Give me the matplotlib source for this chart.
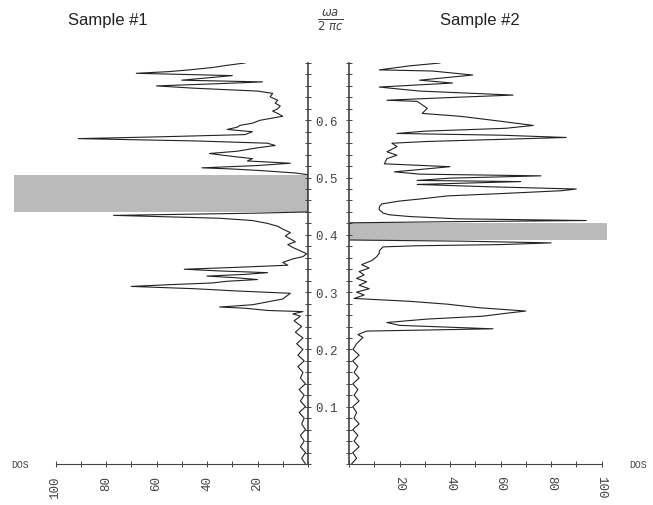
import matplotlib.pyplot as plt
from matplotlib.ticker import MultipleLocator, FixedLocator

# density of states vs reduced frequency
freq1 = [0.0, 0.01, 0.02, 0.03, 0.04, 0.05, 0.06, 0.07, 0.08, 0.09, 0.10, 0.11, 0.12,
         0.13, 0.14, 0.15, 0.16, 0.17, 0.18, 0.19, 0.20, 0.21, 0.22, 0.23, 0.24, 0.25,
         0.258, 0.262, 0.266, 0.268, 0.272, 0.274, 0.278, 0.288, 0.298, 0.302, 0.306,
         0.310, 0.313, 0.316, 0.319, 0.322, 0.325, 0.328, 0.331, 0.334, 0.337, 0.340,
         0.343, 0.347, 0.352, 0.358, 0.362, 0.367, 0.372, 0.378, 0.383, 0.388, 0.393,
         0.398, 0.404, 0.410, 0.415, 0.420, 0.425, 0.429, 0.432, 0.434, 0.436, 0.438,
         0.440, 0.505, 0.508, 0.512, 0.515, 0.517, 0.521, 0.525, 0.529, 0.533, 0.537,
         0.542, 0.546, 0.552, 0.556, 0.560, 0.564, 0.568, 0.571, 0.575, 0.580, 0.584,
         0.588, 0.591, 0.595, 0.600, 0.607, 0.612, 0.616, 0.620, 0.625, 0.630, 0.635,
         0.641, 0.647, 0.651, 0.656, 0.660, 0.664, 0.667, 0.670, 0.674, 0.678, 0.682,
         0.685, 0.688, 0.692, 0.696, 0.700]
dos1 = [1, 2.5, 1, 3, 1.5, 3, 1, 2.5, 1.5, 3.5, 1, 3, 1.5,
        3.5, 1, 3, 2, 4, 1.5, 4, 2, 4.5, 2, 5, 2.5, 5.5,
        3, 6, 2, 16, 25, 35, 22, 10, 7, 28, 45,
        70, 55, 38, 32, 20, 28, 40, 25, 16, 35, 49,
        30, 8, 10, 6, 2, 0.5, 3, 6, 8, 5, 7,
        9, 7, 10, 12, 16, 22, 35, 60, 77, 48, 19,
        0, 0, 5, 18, 30, 42, 20, 7, 24, 22, 30,
        39, 28, 20, 13, 16, 45, 91, 60, 25, 22, 32,
        28, 27, 22, 19, 10, 12, 14, 12, 11, 13, 12,
        15, 14, 20, 45, 60, 35, 18, 50, 40, 30, 68,
        55, 47, 38, 32, 25]

freq2 = [0.0, 0.01, 0.02, 0.03, 0.04, 0.05, 0.06, 0.07, 0.08, 0.09, 0.10, 0.11, 0.12,
         0.13, 0.14, 0.15, 0.16, 0.17, 0.18, 0.19, 0.20, 0.21, 0.221, 0.226, 0.232,
         0.236, 0.242, 0.247, 0.253, 0.258, 0.263, 0.267, 0.273, 0.279, 0.284, 0.289,
         0.295, 0.300, 0.306, 0.312, 0.318, 0.324, 0.330, 0.336, 0.342, 0.348, 0.355,
         0.362, 0.368, 0.372, 0.379, 0.381, 0.383, 0.386, 0.389, 0.391, 0.421, 0.423,
         0.425, 0.428, 0.432, 0.435, 0.438, 0.444, 0.449, 0.454, 0.459, 0.463, 0.468,
         0.472, 0.477, 0.480, 0.484, 0.488, 0.493, 0.495, 0.499, 0.503, 0.506, 0.510,
         0.519, 0.524, 0.533, 0.539, 0.545, 0.554, 0.560, 0.563, 0.570, 0.574, 0.577,
         0.581, 0.586, 0.591, 0.600, 0.607, 0.612, 0.621, 0.633, 0.635, 0.639, 0.644,
         0.651, 0.658, 0.665, 0.670, 0.679, 0.686, 0.688, 0.695, 0.700]
dos2 = [1, 3, 1.5, 4, 2, 3.5, 1.5, 4, 2, 3, 1.5, 4, 2,
        3.5, 1.5, 4, 2, 3.5, 1.5, 4, 1.6, 3, 5.5, 3.5, 7,
        57, 20, 15, 31, 53, 62, 70, 51, 39, 24, 2,
        6, 3, 8, 4, 7, 3, 6, 4, 8, 5, 9,
        11, 12, 12, 13.5, 27, 60, 80, 45, 0, 0, 40,
        94, 43, 24, 16, 13.5, 12, 12, 13, 20, 29, 39,
        60, 84, 90, 55, 27, 68, 27, 40, 76, 28, 18,
        40, 14, 15, 19, 15, 19, 17, 31, 86, 60, 19,
        30, 62, 73, 57, 44, 29, 31, 27, 15, 36, 65,
        28, 12, 41, 28, 49, 33, 12, 24, 36]

gap1 = (0.44, 0.505)
gap2 = (0.391, 0.421)
dos_ticks = [20, 40, 60, 80, 100]
dos_minor = [0, 10, 30, 50, 70, 90]
freq_ticks = [0.1, 0.2, 0.3, 0.4, 0.5, 0.6]

W, H = 653, 506
def box(x0, x1, y0, y1):
    return [x0 / W, 1 - y1 / H, (x1 - x0) / W, (y1 - y0) / H]

fig = plt.figure(figsize=(6.53, 5.06), dpi=100)
mono = 'Liberation Mono'
px = 2.525  # pixels per DOS unit

ax1 = fig.add_axes(box(14, 308, 64, 465))
ax2 = fig.add_axes(box(349, 612, 64, 465))

# left sample, mirrored
ax1.axhspan(gap1[0], gap1[1], color='#bababa', lw=0, zorder=1)
ax1.plot(dos1, freq1, color='#222222', lw=0.8, zorder=2)
ax1.set_xlim(294 / px, 0)
ax1.set_ylim(0, 0.70)

# right sample
ax2.fill_betweenx(gap2, 0, 102, color='#bababa', lw=0, zorder=1)
ax2.plot(dos2, freq2, color='#222222', lw=0.8, zorder=2)
ax2.set_xlim(0, 263 / px)
ax2.set_ylim(0, 0.70)

for ax in (ax1, ax2):
    ax.spines['top'].set_visible(False)
    ax.spines['bottom'].set_bounds(0, 100)
    ax.spines['bottom'].set_color('#444444')
    ax.set_xticks(dos_ticks)
    ax.xaxis.set_minor_locator(FixedLocator(dos_minor))
    ax.tick_params(axis='x', which='both', direction='inout', length=4, width=0.7,
                   colors='#444444', labelsize=9, pad=6)
    ax.set_yticks(freq_ticks)
    ax.yaxis.set_minor_locator(MultipleLocator(0.02))
    ax.tick_params(axis='y', which='both', direction='inout', length=4, width=0.7,
                   colors='#444444', labelsize=9)
    ax.patch.set_alpha(0)

ax1.spines['left'].set_visible(False)
ax1.spines['right'].set_color('#444444')
ax1.spines['right'].set_linewidth(1.2)
ax1.yaxis.tick_right()
ax1.set_xticklabels([str(v) for v in dos_ticks], rotation=90, family=mono)
ax1.set_yticklabels([f'{v:.1f}' for v in freq_ticks], family=mono)
ax1.tick_params(axis='y', pad=3)

ax2.spines['right'].set_visible(False)
ax2.spines['left'].set_color('#444444')
ax2.spines['left'].set_linewidth(1.2)
ax2.set_yticklabels([])
ax2.set_xticklabels([str(v) for v in dos_ticks], rotation=-90, family=mono)

fig.text(20 / W, 1 - 465 / H, 'DOS', family=mono, fontsize=7, ha='center', va='center', color='#444444')
fig.text(638 / W, 1 - 465 / H, 'DOS', family=mono, fontsize=7, ha='center', va='center', color='#444444')
fig.text(108 / W, 1 - 20 / H, 'Sample #1', family='Liberation Sans', fontsize=12,
         ha='center', va='center', color='#222222')
fig.text(480 / W, 1 - 20 / H, 'Sample #2', family='Liberation Sans', fontsize=12,
         ha='center', va='center', color='#222222')
fig.text(330 / W, 1 - 20 / H, r'$\frac{\omega a}{2\ \pi c}$', fontsize=12,
         ha='center', va='center', color='#444444')

fig.savefig('out.png', dpi=100)
